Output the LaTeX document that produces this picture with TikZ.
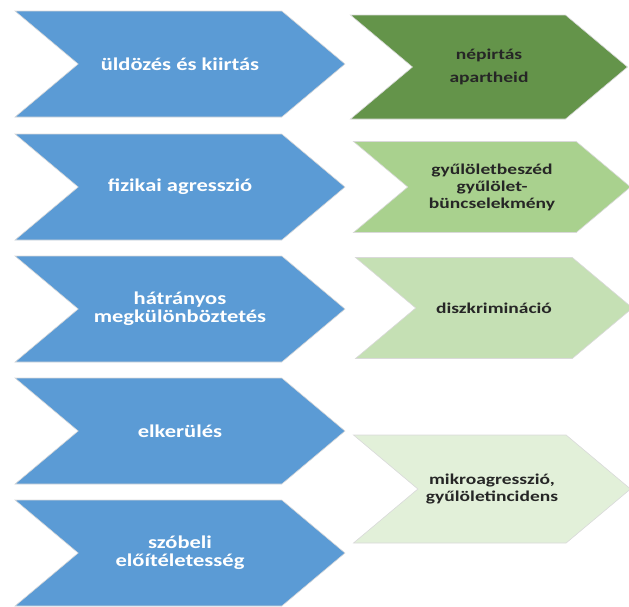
\documentclass[tikz,border=0pt]{standalone}
\usepackage{fontspec}
\usetikzlibrary{shapes.symbols}
\newfontfamily\actfont[FakeStretch=1.25]{Carlito}
\newfontfamily\formfont[FakeStretch=1.3]{Carlito}
\definecolor{actblue}{HTML}{5B9BD5}
\definecolor{greenA}{HTML}{64944A}
\definecolor{greenB}{HTML}{A9D18E}
\definecolor{greenC}{HTML}{C5E0B4}
\definecolor{greenD}{HTML}{E2F0D9}
\begin{document}
\begin{tikzpicture}[x=1pt, y=-1pt,
    chevron/.style={shape=signal, signal from=west, signal to=east, signal pointer angle=80, draw=gray!30, line width=0.6pt, inner sep=0pt, align=center},
    act/.style={chevron, fill=actblue, text=white, minimum width=330pt, minimum height=106pt, font=\actfont\bfseries\fontsize{18}{18}\selectfont},
    form/.style={chevron, fill=#1, text=black!85, minimum width=277pt, font=\formfont\bfseries\fontsize{15}{17}\selectfont}
]
    \useasboundingbox (0,0) rectangle (629,606);

    % acts
    \node[act] (persecution) at (180,64) {üldözés és kiirtás};
    \node[act] (violence) at (180,187) {fizikai agresszió};
    \node[act] (discrimination) at (180,309) {hátrányos\\megkülönböztetés};
    \node[act] (avoidance) at (180,431) {elkerülés};
    \node[act] (speech) at (180,553) {szóbeli\\előítéletesség};

    % forms
    \node[form=greenA, minimum height=104pt] (genocide) at (489,67) {népirtás\\[6pt]apartheid};
    \node[form=greenB, minimum height=91pt] (hatecrime) at (492,187) {gyűlöletbeszéd\\gyűlölet-\\büncselekmény};
    \node[form=greenC, minimum height=101pt] (bias) at (494,308) {diszkrimináció};
    \node[form=greenD, minimum height=108pt] (micro) at (492,489) {mikroagresszió,\\gyűlöletincidens};
\end{tikzpicture}
\end{document}
